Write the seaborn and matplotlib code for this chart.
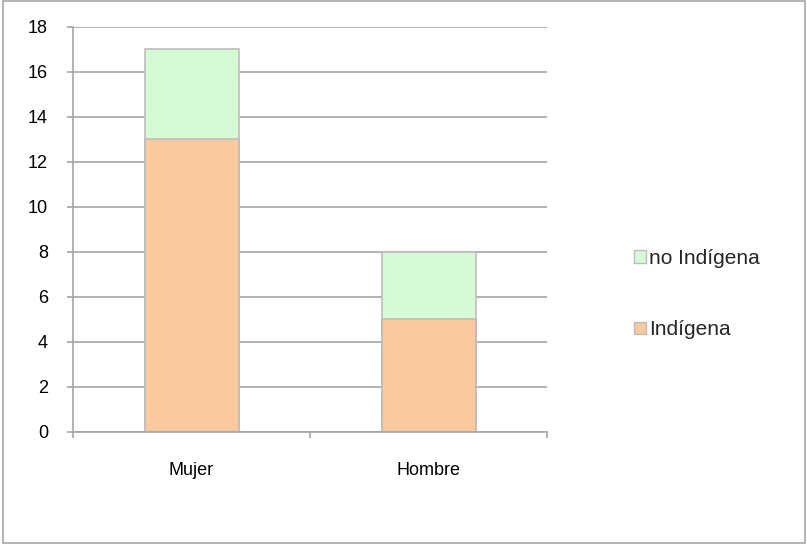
import matplotlib
matplotlib.use("Agg")
import matplotlib.pyplot as plt
import seaborn as sns
import pandas as pd
from matplotlib.patches import Patch, Rectangle

# data
categories = ["Mujer", "Hombre"]
indigena = [13, 5]
no_indigena = [4, 3]
y_ticks = [0, 2, 4, 6, 8, 10, 12, 14, 16, 18]

peach = "#FAC99E"
green = "#D5FAD5"
edge = "#BDBDBD"
axis_gray = "#A6A6A6"

sns.set_theme(style="white")
plt.rcParams["font.family"] = ["Liberation Sans", "DejaVu Sans"]

df = pd.DataFrame({
    "sexo": categories,
    "Indígena": indigena,
    "no Indígena": no_indigena,
})
df["total"] = df["Indígena"] + df["no Indígena"]

fig = plt.figure(figsize=(8.07, 5.44), dpi=100)
ax = fig.add_axes([0.0905, 0.206, 0.5875, 0.7445])

# stacked bars: total first, then the lower segment on top of it
sns.barplot(data=df, x="sexo", y="total", color=green, edgecolor=edge,
            linewidth=1.2, width=0.397, saturation=1, ax=ax)
sns.barplot(data=df, x="sexo", y="Indígena", color=peach, edgecolor=edge,
            linewidth=1.2, width=0.397, saturation=1, ax=ax)

ax.set_xlim(-0.5, 1.5)
ax.set_ylim(0, 18)
ax.set_yticks(y_ticks)
ax.set_xlabel("")
ax.set_ylabel("")
ax.yaxis.grid(True, color=axis_gray, linewidth=1.2)
ax.set_axisbelow(True)

for s in ["top", "right"]:
    ax.spines[s].set_visible(False)
for s in ["left", "bottom"]:
    ax.spines[s].set_color(axis_gray)
    ax.spines[s].set_linewidth(1.2)

ax.tick_params(axis="y", which="both", left=True, length=4, width=1.2,
               color=axis_gray, pad=14, labelsize=13, labelcolor="black")
# x ticks sit at the category boundaries, labels at centres
ax.set_xticks([-0.5, 0.5, 1.5])
ax.set_xticklabels([])
ax.set_xticks([0, 1], minor=True)
ax.set_xticklabels(categories, minor=True)
ax.tick_params(axis="x", which="major", bottom=True, length=4, width=1.2,
               color=axis_gray)
ax.tick_params(axis="x", which="minor", bottom=False, length=0, pad=22,
               labelsize=13, labelcolor="black")

handles = [Patch(facecolor=green, edgecolor=edge, label="no Indígena"),
           Patch(facecolor=peach, edgecolor=edge, label="Indígena")]
fig.legend(handles=handles, loc="center left", bbox_to_anchor=(0.773, 0.459),
           frameon=False, fontsize=15, handlelength=0.58, handleheight=0.58,
           handletextpad=0.15, labelspacing=2.5, borderpad=0)

fig.patches.append(Rectangle((0.004, 0.001), 0.994, 0.997, transform=fig.transFigure,
                             fill=False, edgecolor=axis_gray, linewidth=1.2))

fig.savefig("out.png", dpi=100)
plt.close(fig)
